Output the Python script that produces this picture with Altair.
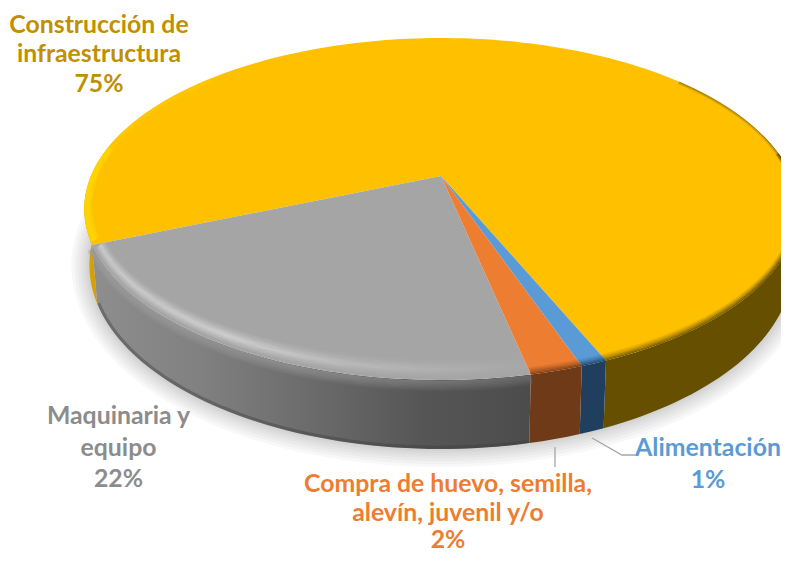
import math
import altair as alt
import pandas as pd

# --- values ---
names = ["Construcción de infraestructura", "Maquinaria y equipo",
         "Compra de huevo, semilla, alevín, juvenil y/o", "Alimentación"]
shares = [75, 22, 2, 1]
face_colors = ["#FFC000", "#A5A5A5", "#ED7D31", "#5B9BD5"]
label_colors = ["#BF9000", "#8C8C8C", "#ED7D31", "#5B9BD5"]
label_lines = [["Construcción de", "infraestructura", "75%"],
               ["Maquinaria y", "equipo", "22%"],
               ["Compra de huevo, semilla,", "alevín, juvenil y/o", "2%"],
               ["Alimentación", "1%"]]
label_x = [99, 118.5, 448, 708]
label_y = [[26, 55, 85], [417, 449, 480], [485, 514, 541], [449, 481]]

# --- view geometry (a tilted disc seen in perspective) ---
APEX = (441, 176)
P = 0.193
A_TOP, B_TOP = 350.0, 164.6
A_BOT, B_BOT, Y_BOT = 345.0, 177.0, 229.7
GREY_END = 78.0   # direction (deg) where the 22 % slice ends, towards the viewer


def top(t, d=0.0):
    u = math.cos(math.radians(t)) * (1 - 0.6 * d / 350)
    v = math.sin(math.radians(t)) * (1 - d / 200)
    w = 1 - P * v
    return APEX[0] + A_TOP * u / w, APEX[1] + B_TOP * v / w


def bottom(t, d=0.0):
    u = math.cos(math.radians(t))
    v = math.sin(math.radians(t))
    w = 1 - P * v
    return APEX[0] + (A_BOT + d) * u / w, Y_BOT + (B_BOT + d) * v / w


def arange(a, b, step=1.5):
    n = max(2, int(abs(b - a) / step) + 1)
    return [a + (b - a) * i / (n - 1) for i in range(n)]


deg = [s * 3.6 for s in shares]
grey = (GREY_END, GREY_END + deg[1])
orange = (GREY_END - deg[2], GREY_END)
blue = (GREY_END - deg[2] - deg[3], GREY_END - deg[2])
gold = (grey[1], blue[0] + 360)


def poly(pts):
    return pd.DataFrame({"x": [p[0] for p in pts], "y": [p[1] for p in pts],
                         "o": list(range(len(pts)))})


X = alt.X("x:Q", axis=None, scale=alt.Scale(domain=[8, 781], range=[0, 773], nice=False, zero=False))
Y = alt.Y("y:Q", axis=None, scale=alt.Scale(domain=[8, 553], range=[0, 545], nice=False, zero=False))


def hgrad(stops):
    return alt.Gradient(gradient="linear", x1=0, x2=1, y1=0, y2=0,
                        stops=[alt.GradientStop(offset=o, color=c) for o, c in stops])


def fill(pts, f):
    return alt.Chart(poly(pts)).mark_line(filled=True, fill=f, strokeWidth=0, clip=True).encode(x=X, y=Y, order="o:Q")


def stroke(pts, s, w=1.6, op=1.0):
    return alt.Chart(poly(pts)).mark_line(stroke=s, strokeWidth=w, opacity=op, clip=True).encode(x=X, y=Y, order="o:Q")


def wall(t1, t2, f):
    ts = arange(t1, t2)
    return fill([top(t) for t in ts] + [bottom(t) for t in reversed(ts)], f)


def face(t1, t2, f):
    return fill([APEX] + [top(t) for t in arange(t1, t2)], f)


layers = []

# soft shadow below the disc
shadow_ts = arange(-8, 188)
for w in (36, 30, 24, 18, 13, 8, 4):
    layers.append(stroke([bottom(t, 0) for t in shadow_ts], "#808080", w=w, op=0.06))

# side walls
layers.append(wall(-15, blue[0], "#665000"))
layers.append(wall(grey[1], 197, hgrad([(0, "#D9A400"), (1, "#C79600")])))
layers.append(wall(blue[0], blue[1], "#203F5E"))
layers.append(wall(orange[0], orange[1], "#6F3A17"))
layers.append(wall(grey[0], grey[1], hgrad([(0, "#8E8E8E"), (0.25, "#808080"), (0.5, "#6B6B6B"),
                                            (0.75, "#565656"), (1, "#4C4C4C")])))

# dark lower edge of the grey wall
layers.append(stroke([bottom(t, -1.5) for t in arange(grey[0], grey[1])], "#3C3C3C", w=3, op=0.4))

# rounded shoulder outside the face rim
for d, op in ((-8, .12), (-7, .25), (-6, .38), (-5, .5), (-4, .62), (-3, .74), (-2, .85), (-1, .95)):
    layers.append(stroke([top(t, d) for t in arange(grey[0], grey[1] - 1)],
                         hgrad([(0, "#9A9A9A"), (.45, "#8C8C8C"), (1, "#686868")]), w=1.6, op=op))

# top faces
layers.append(face(*gold, face_colors[0]))
layers.append(face(*grey, face_colors[1]))
layers.append(face(*orange, face_colors[2]))
layers.append(face(*blue, face_colors[3]))

# bevel highlights and rim shading
hl = hgrad([(0, "rgba(255,255,255,0.28)"), (.3, "rgba(255,255,255,0.4)"),
            (.6, "rgba(255,255,255,0.2)"), (1, "rgba(255,255,255,0.02)")])
for d, op in ((3, .2), (4, .35), (5, .5), (6, .7), (7, .85), (8, 1), (9, 1), (10, .85), (11, .7),
              (12, .55), (13, .4), (14, .28), (15, .18), (16, .1)):
    layers.append(stroke([top(t, d) for t in arange(grey[0], grey[1] - 1)], hl, w=1.3, op=op))
for d, op in ((0.5, .85), (1.5, .65), (2.5, .48), (3.5, .32), (4.5, .2), (5.5, .1)):
    layers.append(stroke([top(t, d) for t in arange(orange[0], orange[1])], "#6F3A17", w=1.3, op=op))
    layers.append(stroke([top(t, d) for t in arange(blue[0], blue[1])], "#203F5E", w=1.3, op=op))
    layers.append(stroke([top(t, d) for t in arange(-8, blue[0])], "#665000", w=1.3, op=op))
    layers.append(stroke([top(t, d) for t in arange(-40, -8)], "#665000", w=1.0, op=op * 0.5))
# lighter rim on the left of the gold face
for d, op in ((1, .75), (2, .95), (3, 1), (4, 1), (5, 1), (6, .95), (7, .8), (8, .65), (9, .5), (10, .35), (11, .2), (12, .1)):
    layers.append(stroke([top(t, d) for t in arange(grey[1] + 1, 190)], "#FFD400", w=1.5, op=op))
    layers.append(stroke([top(t, d) for t in arange(190, 222)], "#FFCA00", w=1.5, op=op * 0.4))

# leader lines
layers.append(stroke([(555, 447), (555, 467)], "#A6A6A6", w=1.3))
layers.append(stroke([(592, 438), (622, 455), (635, 455)], "#A6A6A6", w=1.3))

# labels
rows = []
for lines, ys, lx, col in zip(label_lines, label_y, label_x, label_colors):
    for ln, ly in zip(lines, ys):
        rows.append({"x": lx, "y": ly, "t": ln, "c": col})
layers.append(alt.Chart(pd.DataFrame(rows)).mark_text(
    font="Lato", fontWeight="bold", fontSize=24.8, align="center", baseline="middle"
).encode(x=X, y=Y, text="t:N", color=alt.Color("c:N", scale=None, legend=None)))

chart = alt.layer(*layers).properties(
    width=773, height=545, padding=0, autosize=alt.AutoSizeParams(type="none"), background="white"
).configure_view(stroke=None)

chart.save("out.html", embed_options={"renderer": "svg", "actions": False})
